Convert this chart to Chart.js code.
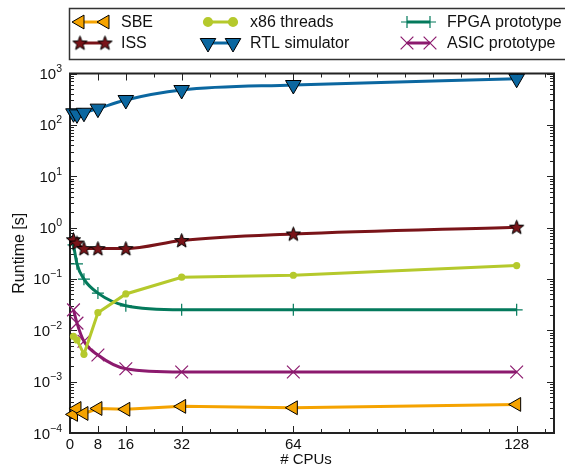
<!DOCTYPE html>
<html>
<head>
<meta charset="utf-8">
<script src="https://cdn.jsdelivr.net/npm/chart.js@4/dist/chart.umd.min.js"></script>
<style>
  html, body { margin: 0; padding: 0; background: #fff; overflow: hidden; }
  canvas { display: block; }
</style>
</head>
<body>
<canvas id="chart" width="565" height="471"></canvas>
<script>
// number of CPUs (x) and runtimes in seconds (y, log scale)
var cpus = [1, 2, 4, 8, 16, 32, 64, 128];
var sbe  = [0.00023, 0.00030, 0.00024, 0.00030, 0.00029, 0.00033, 0.00031, 0.00036];
var iss  = [0.58, 0.50, 0.39, 0.39, 0.39, 0.56, 0.75, 1.02];
var x86  = [0.0076, 0.0065, 0.0034, 0.022, 0.051, 0.108, 0.118, 0.182];
var rtl  = [168, 160, 172, 207, 305, 477, 597, 790];
var fpga = [0.46, 0.197, 0.099, 0.053, 0.030, 0.025, 0.025, 0.025];
var asic = [0.025, 0.0138, 0.0061, 0.0033, 0.00178, 0.00154, 0.00154, 0.00154];

var seriesNames = ['SBE', 'ISS', 'x86 threads', 'RTL simulator', 'FPGA prototype', 'ASIC prototype'];
var xTicks = [0, 8, 16, 32, 64, 128];
var yExponents = [-4, -3, -2, -1, 0, 1, 2, 3];

var FONT = '"Liberation Sans", Arial, Helvetica, sans-serif';

function pts(vals) {
  return cpus.map(function (c, i) { return { x: c, y: vals[i] }; });
}

// filled star marker, like matplotlib '*'
function starCanvas(size, fill) {
  var c = document.createElement('canvas');
  c.width = c.height = size;
  var g = c.getContext('2d');
  var cx = size / 2, cy = size / 2 + 0.5, R = size / 2 - 1, r = R * 0.42;
  g.beginPath();
  for (var i = 0; i < 10; i++) {
    var ang = -Math.PI / 2 + i * Math.PI / 5;
    var rr = i % 2 ? r : R;
    g.lineTo(cx + rr * Math.cos(ang), cy + rr * Math.sin(ang));
  }
  g.closePath();
  g.fillStyle = fill;
  g.fill();
  g.strokeStyle = '#000';
  g.lineWidth = 1;
  g.stroke();
  return c;
}

var col = {
  sbe: '#f5a300',
  iss: '#7a1419',
  x86: '#b5c92c',
  rtl: '#0b67a0',
  fpga: '#047a5c',
  asic: '#8c1a6e'
};

var datasets = [
  { label: seriesNames[0], data: pts(sbe), borderColor: col.sbe, backgroundColor: col.sbe,
    pointStyle: 'triangle', rotation: 270, pointRadius: 8, pointBorderColor: '#000', pointBorderWidth: 1,
    tension: 0 },
  { label: seriesNames[1], data: pts(iss), borderColor: col.iss, backgroundColor: col.iss,
    pointStyle: starCanvas(17, col.iss), pointRadius: 8, cubicInterpolationMode: 'monotone' },
  { label: seriesNames[2], data: pts(x86), borderColor: col.x86, backgroundColor: col.x86,
    pointStyle: 'circle', pointRadius: 3.6, pointBorderColor: col.x86, pointBorderWidth: 0, tension: 0 },
  { label: seriesNames[3], data: pts(rtl), borderColor: col.rtl, backgroundColor: col.rtl,
    pointStyle: 'triangle', rotation: 180, pointRadius: 9, pointBorderColor: '#000', pointBorderWidth: 1,
    cubicInterpolationMode: 'monotone' },
  { label: seriesNames[4], data: pts(fpga), borderColor: col.fpga, backgroundColor: col.fpga,
    pointStyle: 'cross', pointRadius: 6, pointBorderColor: col.fpga, pointBorderWidth: 1.2,
    cubicInterpolationMode: 'monotone' },
  { label: seriesNames[5], data: pts(asic), borderColor: col.asic, backgroundColor: col.asic,
    pointStyle: 'crossRot', pointRadius: 9, pointBorderColor: col.asic, pointBorderWidth: 1.2,
    cubicInterpolationMode: 'monotone' }
];
datasets.forEach(function (d) {
  d.borderWidth = 3;
  d.fill = false;
  d.clip = false;
  d.pointHoverRadius = d.pointRadius;
});

function drawPointStyle(ctx, ds, x, y) {
  ctx.save();
  ctx.fillStyle = ds.backgroundColor;
  ctx.strokeStyle = ds.pointBorderColor || ds.borderColor;
  ctx.lineWidth = ds.pointBorderWidth !== undefined ? ds.pointBorderWidth : 1;
  Chart.helpers.drawPoint(ctx, {
    pointStyle: ds.pointStyle, rotation: ds.rotation || 0,
    radius: ds.pointRadius, borderWidth: ctx.lineWidth
  }, x, y);
  ctx.restore();
}

var axesPlugin = {
  id: 'axesFrame',
  beforeDatasetsDraw: function (chart) {
    var ctx = chart.ctx, a = chart.chartArea;
    var xs = chart.scales.x, ys = chart.scales.y;
    ctx.save();
    ctx.strokeStyle = '#222';
    ctx.lineWidth = 1;
    function seg(x1, y1, x2, y2) { ctx.beginPath(); ctx.moveTo(x1, y1); ctx.lineTo(x2, y2); ctx.stroke(); }
    // y ticks, major + minor on left and right
    yExponents.forEach(function (e) {
      for (var m = 1; m <= 9; m++) {
        var v = m * Math.pow(10, e);
        if (v > ys.max * 1.0001) break;
        var py = Math.round(ys.getPixelForValue(v)) + 0.5;
        var len = m === 1 ? 7 : 4;
        seg(a.left, py, a.left + len, py);
        seg(a.right, py, a.right - len, py);
      }
    });
    // x ticks every 8 on bottom and top, longer at labelled values
    for (var t = 0; t <= xs.max; t += 8) {
      var px = Math.round(xs.getPixelForValue(t)) + 0.5;
      var len = xTicks.indexOf(t) >= 0 ? 7 : 4;
      seg(px, a.bottom, px, a.bottom - len);
      seg(px, a.top, px, a.top + len);
    }
    ctx.lineWidth = 2;
    ctx.strokeRect(a.left, a.top, a.right - a.left, a.bottom - a.top);
    ctx.restore();
  },
  afterDraw: function (chart) {
    var ctx = chart.ctx, a = chart.chartArea;
    var xs = chart.scales.x, ys = chart.scales.y;
    ctx.save();
    ctx.fillStyle = '#111';
    // x tick labels
    ctx.font = '15px ' + FONT;
    ctx.textAlign = 'center';
    ctx.textBaseline = 'top';
    xTicks.forEach(function (t) {
      ctx.fillText(String(t), xs.getPixelForValue(t), a.bottom + 4);
    });
    // y tick labels, 10 with superscript exponent
    ctx.textBaseline = 'alphabetic';
    yExponents.forEach(function (e) {
      var py = ys.getPixelForValue(Math.pow(10, e));
      var ex = String(e).replace('-', '\u2212');
      ctx.font = '10.5px ' + FONT;
      var ew = ctx.measureText(ex).width;
      ctx.font = '15px ' + FONT;
      var bw = ctx.measureText('10').width;
      var right = a.left - 8;
      ctx.textAlign = 'left';
      ctx.fillText('10', right - ew - bw, py + 5.5);
      ctx.font = '10.5px ' + FONT;
      ctx.fillText(ex, right - ew, py - 1.5);
    });
    // axis titles
    ctx.font = '15px ' + FONT;
    ctx.textAlign = 'center';
    ctx.textBaseline = 'middle';
    ctx.fillText('# CPUs', (a.left + a.right) / 2 - 6, 460);
    ctx.save();
    ctx.translate(20, (a.top + a.bottom) / 2);
    ctx.rotate(-Math.PI / 2);
    ctx.font = '16px ' + FONT;
    ctx.fillText('Runtime [s]', 0, 0);
    ctx.restore();

    // legend box (its right edge runs past the picture)
    ctx.strokeStyle = '#333';
    ctx.lineWidth = 1.5;
    ctx.strokeRect(69.5, 8.5, 560, 51);
    var colsX = [[80, 105, 121], [208, 233, 250], [407, 430, 447]];
    var rowsY = [22, 43];
    var ds = chart.data.datasets;
    ctx.font = '16px ' + FONT;
    ctx.textAlign = 'left';
    ctx.textBaseline = 'middle';
    for (var i = 0; i < ds.length; i++) {
      var c = colsX[Math.floor(i / 2)], y = rowsY[i % 2];
      ctx.strokeStyle = ds[i].borderColor;
      ctx.lineWidth = 3;
      ctx.beginPath(); ctx.moveTo(c[0], y); ctx.lineTo(c[1], y); ctx.stroke();
      drawPointStyle(ctx, ds[i], c[0], y);
      drawPointStyle(ctx, ds[i], c[1], y);
      ctx.fillStyle = '#111';
      ctx.fillText(ds[i].label, c[2], y + 1);
    }
    ctx.restore();
  }
};

var chart = new Chart(document.getElementById('chart').getContext('2d'), {
  type: 'line',
  data: { datasets: datasets },
  options: {
    responsive: false,
    animation: false,
    devicePixelRatio: 1,
    layout: { padding: { left: 70, right: 3, top: 73.5, bottom: 38 } },
    plugins: { legend: { display: false }, tooltip: { enabled: false } },
    scales: {
      x: { type: 'linear', min: 0, max: 138.7, display: false },
      y: { type: 'logarithmic', min: 1e-4, max: 1e3, display: false }
    }
  },
  plugins: [axesPlugin]
});
</script>
</body>
</html>
